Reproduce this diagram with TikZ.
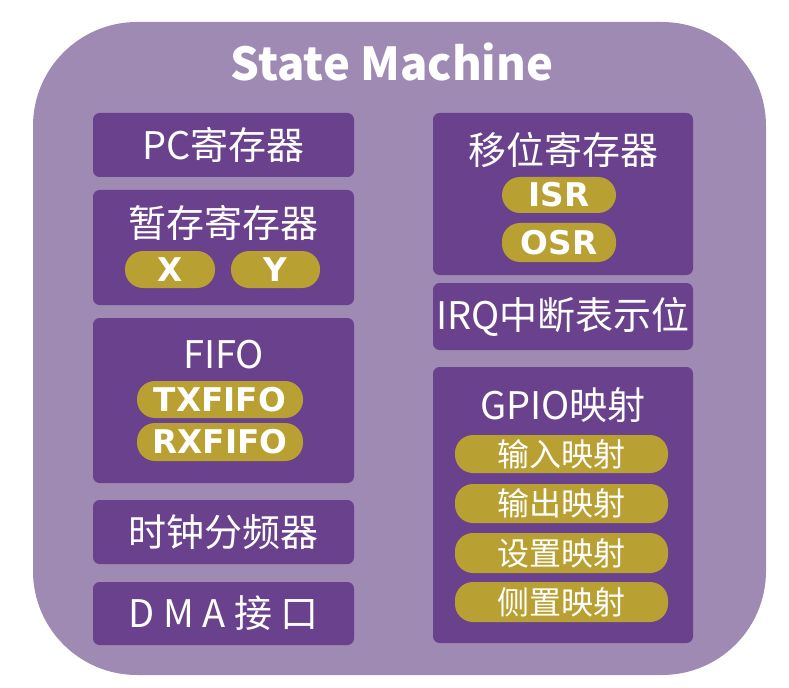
\documentclass[tikz,border=0pt]{standalone}
\usepackage{fontspec}
\setmainfont{Noto Sans CJK SC}
\newfontfamily\pillfont{DejaVu Sans}
\usetikzlibrary{positioning}
\definecolor{smlilac}{HTML}{9E8AB3}
\definecolor{smpurple}{HTML}{6A418C}
\definecolor{smgold}{HTML}{B9A032}

\begin{document}
\begin{tikzpicture}[x=0.75pt, y=-0.75pt,
    size/.style 2 args={minimum width=#1*0.75pt, minimum height=#2*0.75pt},
    frame/.style={fill=smlilac, rounded corners=78pt, inner sep=0pt},
    panel/.style={fill=smpurple, rounded corners=5pt, inner sep=0pt, text=white,
                  font=\fontsize{28.5}{34}\selectfont},
    ptitle/.style={text=white, inner sep=0pt, font=\fontsize{28.5}{34}\selectfont},
    pill/.style={fill=smgold, rounded corners=13.5pt, inner sep=0pt, text=white,
                 font=\pillfont\bfseries\fontsize{24.5}{30}\selectfont},
    cnpill/.style={pill, font=\fontsize{24}{28}\selectfont}
  ]
  \useasboundingbox (0,0) rectangle (789,688);
  \node[frame, size={733}{653}] (sm) at (399.5,348.5) {};
  \node[text=white, font=\bfseries\fontsize{34}{40}\selectfont] (smT) at (392,62) {State Machine};

  % left column
  \node[panel, size={261}{64}] (pc) at (223.5,145) {PC寄存器};
  \node[panel, size={261}{115}] (temp) at (223.5,247.5) {};
  \node[ptitle] (tempT) at (223.5,223) {暂存寄存器};
  \node[pill, size={90}{37}] (regx) at (170,269.5) {X};
  \node[pill, size={89}{37}] (regy) at (275.5,269.5) {Y};
  \node[panel, size={261}{165}] (fifo) at (223.5,400.5) {};
  \node[ptitle] (fifoT) at (223.5,355) {FIFO};
  \node[pill, size={166}{37}] (txf) at (220,399.5) {TXFIFO};
  \node[pill, size={166}{38}] (rxf) at (220,442) {RXFIFO};
  \node[panel, size={261}{64}] (clk) at (223.5,532) {时钟分频器};
  \node[panel, size={261}{63}] (dma) at (223.5,613.5) {D M A 接 口};

  % right column
  \node[panel, size={260}{162}] (shift) at (563,194) {};
  \node[ptitle] (shiftT) at (563,150) {移位寄存器};
  \node[pill, size={114}{36}] (isr) at (559,195) {ISR};
  \node[pill, size={114}{39}] (osr) at (559,242.5) {OSR};
  \node[panel, size={260}{67}] (irq) at (563,316.5) {IRQ中断表示位};
  \node[panel, size={260}{276}] (gpio) at (563,505) {};
  \node[ptitle] (gpioT) at (563,405) {GPIO映射};
  \node[cnpill, size={213}{38}] (gin) at (561.5,454) {输入映射};
  \node[cnpill, size={213}{39}] (gout) at (561.5,503.5) {输出映射};
  \node[cnpill, size={213}{40}] (gset) at (561.5,553) {设置映射};
  \node[cnpill, size={213}{40}] (gside) at (561.5,602) {侧置映射};
\end{tikzpicture}
\end{document}
